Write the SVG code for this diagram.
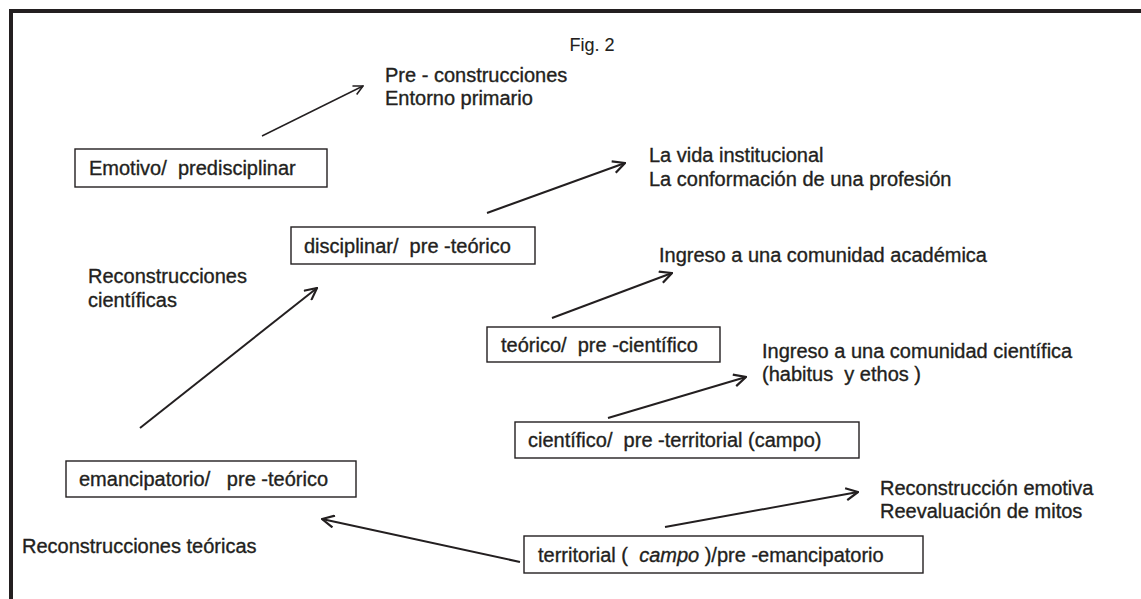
<svg xmlns="http://www.w3.org/2000/svg" width="1141" height="599" viewBox="0 0 1141 599">
<defs>
<style>
text{font-family:"Liberation Sans",Arial,sans-serif;font-size:20px;fill:#231f20;stroke:#231f20;stroke-width:0.35;white-space:pre}
.box{fill:#fff;stroke:#231f20;stroke-width:1.4}
.ar{fill:none;stroke:#231f20;stroke-width:2;marker-end:url(#ah)}
.thin{stroke-width:1.4;marker-end:url(#ahs)}
</style>
<marker id="ah" markerUnits="userSpaceOnUse" viewBox="0 0 14 14" refX="13" refY="7" markerWidth="14" markerHeight="14" orient="auto">
<path d="M1,1 L13,7 L1,13" fill="none" stroke="#231f20" stroke-width="2.2"/>
</marker>
<marker id="ahs" markerUnits="userSpaceOnUse" viewBox="0 0 14 14" refX="13" refY="7" markerWidth="11" markerHeight="11" orient="auto">
<path d="M1,1 L13,7 L1,13" fill="none" stroke="#231f20" stroke-width="2"/>
</marker>
</defs>
<rect width="1141" height="599" fill="#fff"/>
<g id="frame" stroke="#231f20" stroke-width="4">
<line x1="9" y1="11" x2="1141" y2="11"/>
<line x1="11" y1="9" x2="11" y2="599"/>
</g>
<text x="592" y="51" text-anchor="middle" style="font-size:18px;stroke-width:0.1">Fig. 2</text>
<g id="connectors">
<line class="ar thin" x1="262" y1="136" x2="363" y2="86"/>
<line class="ar" x1="487" y1="213" x2="625" y2="163"/>
<line class="ar" x1="552" y1="318" x2="672" y2="273"/>
<line class="ar" x1="608" y1="418" x2="746" y2="377"/>
<line class="ar" x1="665" y1="527" x2="858" y2="492"/>
<line class="ar" x1="520" y1="562" x2="322" y2="519"/>
<line class="ar" x1="140" y1="428" x2="317" y2="288"/>
</g>
<g id="n-emotivo"><rect class="box" x="75" y="149" width="252" height="38"/><text x="89" y="175">Emotivo/  predisciplinar</text></g>
<g id="n-disciplinar"><rect class="box" x="291" y="227" width="244" height="37"/><text x="304" y="253">disciplinar/  pre -teórico</text></g>
<g id="n-teorico"><rect class="box" x="487" y="327" width="233" height="35"/><text x="501" y="352">teórico/  pre -científico</text></g>
<g id="n-cientifico"><rect class="box" x="515" y="422" width="344" height="36"/><text x="528" y="447">científico/  pre -territorial (campo)</text></g>
<g id="n-emancipatorio"><rect class="box" x="66" y="461" width="290" height="36"/><text x="79" y="486">emancipatorio/   pre -teórico</text></g>
<g id="n-territorial"><rect class="box" x="524" y="536" width="399" height="37"/><text x="538" y="562">territorial (  <tspan font-style="italic">campo</tspan> )/pre -emancipatorio</text></g>
<g id="l-pre"><text x="385" y="82">Pre - construcciones</text><text x="385" y="105">Entorno primario</text></g>
<g id="l-vida"><text x="649" y="162">La vida institucional</text><text x="649" y="186">La conformación de una profesión</text></g>
<g id="l-academica"><text x="659" y="262">Ingreso a una comunidad académica</text></g>
<g id="l-cientifica"><text x="762" y="358">Ingreso a una comunidad científica</text><text x="762" y="381">(habitus  y ethos )</text></g>
<g id="l-emotiva"><text x="880" y="495">Reconstrucción emotiva</text><text x="880" y="518">Reevaluación de mitos</text></g>
<g id="l-reccient"><text x="88" y="283">Reconstrucciones</text><text x="88" y="307">científicas</text></g>
<g id="l-recteor"><text x="22" y="553">Reconstrucciones teóricas</text></g>
</svg>
